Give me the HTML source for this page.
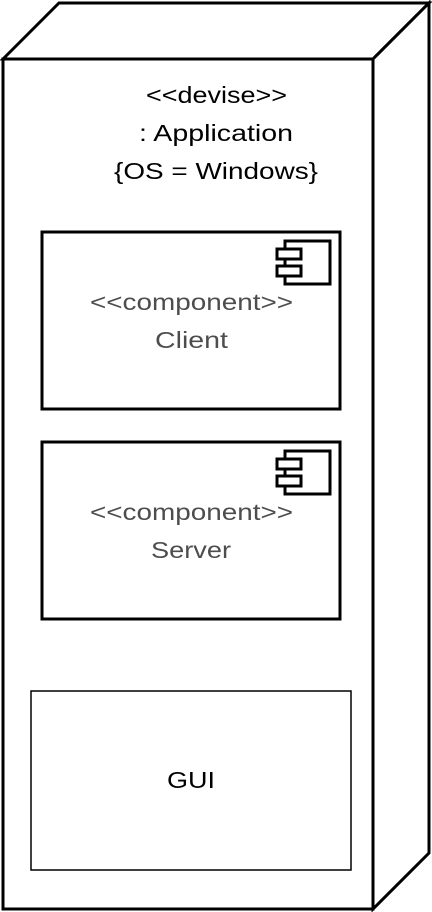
<!DOCTYPE html>
<html><head><meta charset="utf-8"><style>html,body{margin:0;padding:0;background:#fff}svg{display:block}</style></head>
<body>
<svg width="432" height="912" viewBox="0 0 432 912" xmlns="http://www.w3.org/2000/svg" font-family="'Liberation Sans', sans-serif">
<g fill="#fff" stroke="#000" stroke-width="3" stroke-linejoin="miter">
<polygon points="3,59 59,3 429,3 373,59"/>
<polygon points="373,59 429,3 429,853 373,909"/>
<rect x="3" y="59" width="370" height="850"/>
</g>
<g font-size="23" fill="#000">
<text x="146" y="103" textLength="141" lengthAdjust="spacingAndGlyphs">&lt;&lt;devise&gt;&gt;</text>
<text x="139" y="141" textLength="154" lengthAdjust="spacingAndGlyphs">: Application</text>
<text x="114" y="179" textLength="204" lengthAdjust="spacingAndGlyphs">{OS = Windows}</text>
</g>
<g fill="#fff" stroke="#000" stroke-width="3">
<rect x="42" y="232" width="298" height="177"/>
<rect x="42" y="442" width="298" height="177"/>
<rect x="285" y="241" width="45" height="43"/>
<rect x="277" y="249" width="24" height="10"/>
<rect x="277" y="266" width="24" height="10"/>
<rect x="285" y="451" width="45" height="43"/>
<rect x="277" y="459" width="24" height="10"/>
<rect x="277" y="476" width="24" height="10"/>
</g>
<g font-size="23" fill="#4d4d4d">
<text x="90" y="310" textLength="203" lengthAdjust="spacingAndGlyphs">&lt;&lt;component&gt;&gt;</text>
<text x="155" y="348" textLength="73" lengthAdjust="spacingAndGlyphs">Client</text>
<text x="90" y="520" textLength="203" lengthAdjust="spacingAndGlyphs">&lt;&lt;component&gt;&gt;</text>
<text x="151" y="558" textLength="80" lengthAdjust="spacingAndGlyphs">Server</text>
</g>
<rect x="31" y="691" width="320" height="179" fill="#fff" stroke="#000" stroke-width="1.5"/>
<text x="167" y="788" font-size="23" fill="#000" textLength="48" lengthAdjust="spacingAndGlyphs">GUI</text>
</svg>
</body></html>
